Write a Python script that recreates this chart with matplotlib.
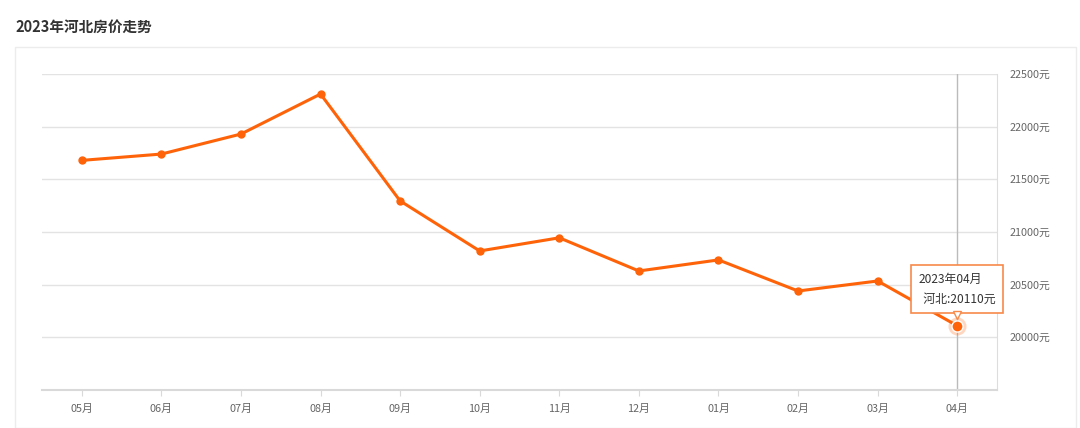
import matplotlib
matplotlib.use("Agg")
import matplotlib.pyplot as plt
from matplotlib.patches import Rectangle
from matplotlib.transforms import ScaledTranslation

plt.rcParams['font.family'] = ['Noto Sans CJK SC', 'DejaVu Sans']

months = ["05月", "06月", "07月", "08月", "09月", "10月", "11月", "12月", "01月", "02月", "03月", "04月"]
prices = [21680, 21740, 21930, 22310, 21295, 20820, 20945, 20630, 20735, 20440, 20535, 20110]
yticks = [20000, 20500, 21000, 21500, 22000, 22500]
title = "2023年河北房价走势"
tooltip_title = "2023年04月"
tooltip_label = "河北"

LINE = '#ff6309'
fig = plt.figure(figsize=(10.8, 4.28), dpi=100)
W, H = 1080, 428

# outer panel border
fig.patches.append(Rectangle((15 / W, 0), (1076 - 15) / W, 1 - 47 / H,
                             transform=fig.transFigure, fill=False,
                             edgecolor='#ececec', linewidth=1))
fig.text(15 / W, 1 - 27 / H, title, fontsize=10.5, fontweight='bold',
         color='#333333', va='center', ha='left')

ax = fig.add_axes([42 / W, 1 - 390 / H, (997 - 42) / W, (390 - 74) / H])
x = list(range(len(months)))
ax.plot(x, prices, color=LINE, linewidth=2.2, marker='o', markersize=5, zorder=3)
ax.set_xlim(-0.5, len(months) - 0.5)
ax.set_ylim(19500, 22500)
ax.set_xticks(x)
ax.set_xticklabels(months)
ax.set_yticks(yticks)
ax.set_yticklabels([f"{v}元" for v in yticks])
ax.yaxis.tick_right()
ax.grid(axis='y', color='#e3e3e3', linewidth=1)
ax.set_axisbelow(True)
for s in ['left', 'top']:
    ax.spines[s].set_visible(False)
ax.spines['right'].set_color('#dddddd')
ax.spines['bottom'].set_color('#d9d9d9')
ax.spines['bottom'].set_linewidth(1.5)
ax.tick_params(axis='y', length=0, pad=9, labelsize=7.8, labelcolor='#666666')
ax.tick_params(axis='x', length=4, color='#d9d9d9', pad=6, labelsize=7.8, labelcolor='#666666')

# hover indicator
last = len(months) - 1
ax.axvline(last, color='#bbbbbb', linewidth=1, zorder=2)
ax.plot([last], [prices[last]], 'o', markersize=13, color=LINE, alpha=0.25, zorder=4, markeredgewidth=0)
ax.plot([last], [prices[last]], 'o', markersize=8, color=LINE, zorder=5,
        markeredgecolor='white', markeredgewidth=1)
ax.annotate(f"{tooltip_title}\n  {tooltip_label}:{prices[last]}元", xy=(last, prices[last]),
            xytext=(0, 14.5), textcoords='offset points', ha='center', va='bottom',
            multialignment='left',
            fontsize=8.6, color='#333333', linespacing=1.7, zorder=6,
            bbox=dict(boxstyle='square,pad=0.6', fc='white', ec='#f7894a', lw=1.2))
ax.plot([last], [prices[last]], marker='v', markersize=6, color='white',
        markeredgecolor='#f7894a', markeredgewidth=1.0, linestyle='none', zorder=7,
        transform=ax.transData + ScaledTranslation(0, 8.0 / 72, fig.dpi_scale_trans))

fig.savefig("out.png", dpi=100)
